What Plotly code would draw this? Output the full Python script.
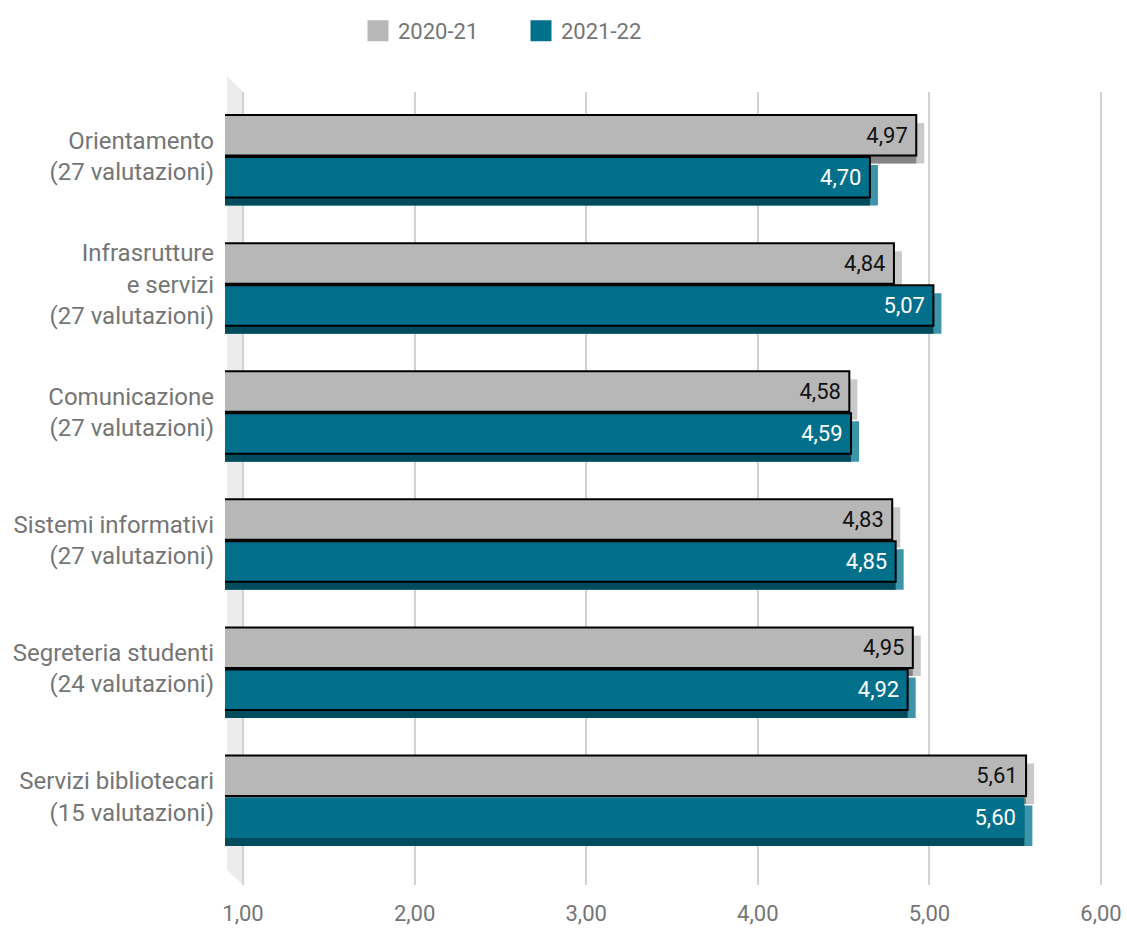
import plotly.graph_objects as go

# ---- data ----
categories = [
    "Orientamento<br>(27 valutazioni)",
    "Infrasrutture<br>e servizi<br>(27 valutazioni)",
    "Comunicazione<br>(27 valutazioni)",
    "Sistemi informativi<br>(27 valutazioni)",
    "Segreteria studenti<br>(24 valutazioni)",
    "Servizi bibliotecari<br>(15 valutazioni)",
]
series_names = ["2020-21", "2021-22"]
values_2020_21 = [4.97, 4.84, 4.58, 4.83, 4.95, 5.61]
values_2021_22 = [4.70, 5.07, 4.59, 4.85, 4.92, 5.60]
tick_values = [1, 2, 3, 4, 5, 6]

# ---- geometry (pixels) ----
W, H = 1127, 929
PLOT_L, PLOT_R, PLOT_T, PLOT_B = 225, 1111, 92, 885
UNIT_PX = 171.6          # pixels per score point on the back plane
FIRST_TICK_PX = 243      # where 1,00 sits
DEPTH_PX = 8             # depth of the extruded bars
BAND_PX = 128.1          # height of one category band

x0 = 1 - (FIRST_TICK_PX - PLOT_L) / UNIT_PX
x1 = x0 + (PLOT_R - PLOT_L) / UNIT_PX
shift = DEPTH_PX / UNIT_PX
y_bottom = -0.5 + (PLOT_B - PLOT_T) / BAND_PX
dy = DEPTH_PX / BAND_PX

bar_w = 0.316
offsets = [-0.32, 0.008]

front_colors = ["#b7b7b7", "#03708b"]
side_colors = ["#c9c9c9", "#3b94a8"]
bottom_colors = ["#858585", "#024b5d"]
text_colors = ["#111111", "#ffffff"]
outline_widths = [[2] * 6, [2, 2, 2, 2, 2, 0]]
series_values = [values_2020_21, values_2021_22]

fig = go.Figure()

# right-hand faces: bars on the back plane, pushed down by the depth
for s in range(2):
    fig.add_trace(go.Bar(
        x=series_values[s], y=categories, orientation="h",
        xaxis="x", yaxis="y",
        offset=offsets[s] + dy, width=bar_w,
        marker=dict(color=side_colors[s], line=dict(width=0)),
        showlegend=False, hoverinfo="skip",
    ))

# bottom faces
for s in range(2):
    fig.add_trace(go.Bar(
        x=series_values[s], y=categories, orientation="h",
        xaxis="x2", yaxis="y",
        offset=offsets[s] + dy, width=bar_w,
        marker=dict(color=bottom_colors[s], line=dict(width=0)),
        showlegend=False, hoverinfo="skip",
    ))

# front faces with value labels
for s in range(2):
    fig.add_trace(go.Bar(
        x=series_values[s], y=categories, orientation="h",
        xaxis="x2", yaxis="y",
        offset=offsets[s], width=bar_w,
        marker=dict(color=front_colors[s],
                    line=dict(color="#000000", width=outline_widths[s])),
        texttemplate="%{x:.2f}\u00a0", textposition="inside",
        insidetextanchor="end",
        textfont=dict(family="Roboto", size=22, color=text_colors[s]),
        showlegend=False, hoverinfo="skip",
    ))

# legend entries
for s in range(2):
    fig.add_trace(go.Scatter(
        x=[None], y=[None], mode="markers", name=series_names[s],
        xaxis="x", yaxis="y",
        marker=dict(symbol="square", size=16, color=front_colors[s],
                    line=dict(color=front_colors[s], width=5)),
    ))

# left wall
wx0 = (227 - PLOT_L) / (PLOT_R - PLOT_L)
wx1 = (FIRST_TICK_PX - PLOT_L) / (PLOT_R - PLOT_L)
ph = PLOT_B - PLOT_T
wall = (f"M {wx0} {(PLOT_B - 76) / ph} L {wx1} 1 L {wx1} 0 "
        f"L {wx0} {(PLOT_B - 870) / ph} Z")
fig.add_shape(type="path", path=wall, xref="paper", yref="paper",
              fillcolor="#ececec", line=dict(width=0), layer="below")

fig.update_layout(
    width=W, height=H,
    margin=dict(l=PLOT_L, r=W - PLOT_R, t=PLOT_T, b=H - PLOT_B,
                autoexpand=False),
    paper_bgcolor="white", plot_bgcolor="white",
    barmode="overlay",
    separators=",.",
    font=dict(family="Roboto", size=22, color="#757575"),
    xaxis=dict(
        range=[x0, x1], tickvals=tick_values, tickformat=".2f",
        showgrid=True, gridcolor="#d2d2d2", gridwidth=2,
        zeroline=False, showline=False, ticks="",
        ticklabelstandoff=13, automargin=False,
        tickfont=dict(family="Roboto", size=22, color="#757575"),
    ),
    xaxis2=dict(
        range=[x0 + shift, x1 + shift], overlaying="x", anchor="y",
        visible=False, showgrid=False, zeroline=False, automargin=False,
    ),
    yaxis=dict(
        range=[y_bottom, -0.5], type="category",
        showgrid=False, zeroline=False, showline=False, ticks="",
        ticklabelstandoff=10, automargin=False,
        tickfont=dict(family="Roboto", size=24, color="#757575"),
    ),
    legend=dict(
        orientation="h", x=(358 - PLOT_L) / (PLOT_R - PLOT_L), xanchor="left",
        y=(PLOT_B - 31) / ph, yanchor="middle",
        entrywidth=118, entrywidthmode="pixels",
        font=dict(family="Roboto", size=22, color="#757575"),
        bgcolor="rgba(0,0,0,0)",
    ),
)

fig.write_html("out.html")
